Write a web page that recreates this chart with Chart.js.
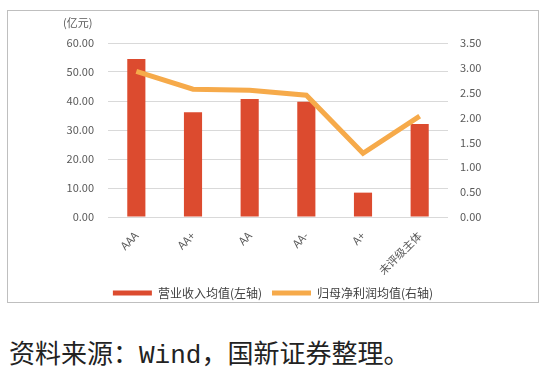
<!DOCTYPE html>
<html>
<head>
<meta charset="utf-8">
<script src="https://cdn.jsdelivr.net/npm/chart.js@4.4.1/dist/chart.umd.min.js"></script>
<style>
  body { margin: 0; background: #fff; width: 545px; height: 371px; position: relative; overflow: hidden; }
  #box { position: absolute; left: 7px; top: 10px; width: 532px; height: 293px; border: 1px solid #bfbfbf; box-sizing: border-box; }
  #myChart { display: block; }
  #unit { position: absolute; left: 63px; top: 14px; font: 11px "Noto Sans CJK SC", sans-serif; color: #595959; }
  #src { position: absolute; left: 9px; top: 333px; font-size: 26px; font-family: "Liberation Mono", "Noto Sans CJK SC", monospace; color: #222; white-space: nowrap; }
</style>
</head>
<body>
<div id="box"><canvas id="myChart" width="530" height="291"></canvas></div>
<div id="unit">(亿元)</div>
<div id="src">资料来源：Wind，国新证券整理。</div>
<script>
var labels = ['AAA', 'AA+', 'AA', 'AA-', 'A+', '未评级主体'];
var revenue = [54.5, 36.1, 40.7, 39.7, 8.4, 32.1];
var profit = [2.93, 2.57, 2.55, 2.45, 1.28, 2.03];
var leftTicks = [0, 60, 10];
var rightTicks = [0, 3.5, 0.5];

var red = '#dc4b2f', orange = '#f6aa4a';
var font = { family: '"Noto Sans CJK SC", sans-serif', size: 11 };

var ctx = document.getElementById('myChart');
var myChart = new Chart(ctx, {
  type: 'bar',
  data: {
    labels: labels,
    datasets: [{
      label: '营业收入均值(左轴)',
      data: revenue,
      backgroundColor: red,
      yAxisID: 'y',
      barPercentage: 0.32,
      categoryPercentage: 1,
      order: 1
    }, {
      type: 'line',
      label: '归母净利润均值(右轴)',
      data: profit,
      borderColor: orange,
      backgroundColor: orange,
      borderWidth: 5,
      pointRadius: 0,
      tension: 0,
      yAxisID: 'y1',
      order: 0
    }]
  },
  options: {
    responsive: false,
    animation: false,
    devicePixelRatio: 1,
    layout: { padding: { top: 32, bottom: -7 } },
    plugins: {
      tooltip: { enabled: false },
      legend: {
        position: 'bottom',
        labels: {
          color: '#404040',
          font: { family: '"Noto Sans CJK SC", sans-serif', size: 12 },
          boxWidth: 39,
          boxHeight: 5,
          padding: 10,
          sort: function (a, b) { return a.datasetIndex - b.datasetIndex; },
          generateLabels: function (chart) {
            var items = Chart.defaults.plugins.legend.labels.generateLabels(chart);
            items.forEach(function (it) {
              var c = it.datasetIndex === 0 ? red : orange;
              it.fillStyle = c;
              it.strokeStyle = c;
              it.lineWidth = 0;
            });
            return items;
          }
        }
      }
    },
    scales: {
      x: {
        grid: { display: false },
        border: { display: false },
        ticks: { color: '#595959', font: font, minRotation: 45, maxRotation: 45, autoSkip: false, padding: 4 },
        afterFit: function (s) { s.height = 60; }
      },
      y: {
        position: 'left',
        min: leftTicks[0], max: leftTicks[1],
        grid: { color: '#d9d9d9', drawTicks: false },
        border: { display: false },
        ticks: { stepSize: leftTicks[2], color: '#595959', font: font, padding: 14,
          callback: function (v) { return v.toFixed(2); } },
        afterFit: function (s) { s.width = 100; }
      },
      y1: {
        position: 'right',
        min: rightTicks[0], max: rightTicks[1],
        grid: { drawOnChartArea: false, drawTicks: false },
        border: { display: false },
        ticks: { stepSize: rightTicks[2], color: '#595959', font: font, padding: 12,
          callback: function (v) { return v.toFixed(2); } },
        afterFit: function (s) { s.width = 90; }
      }
    }
  }
});
</script>
</body>
</html>
